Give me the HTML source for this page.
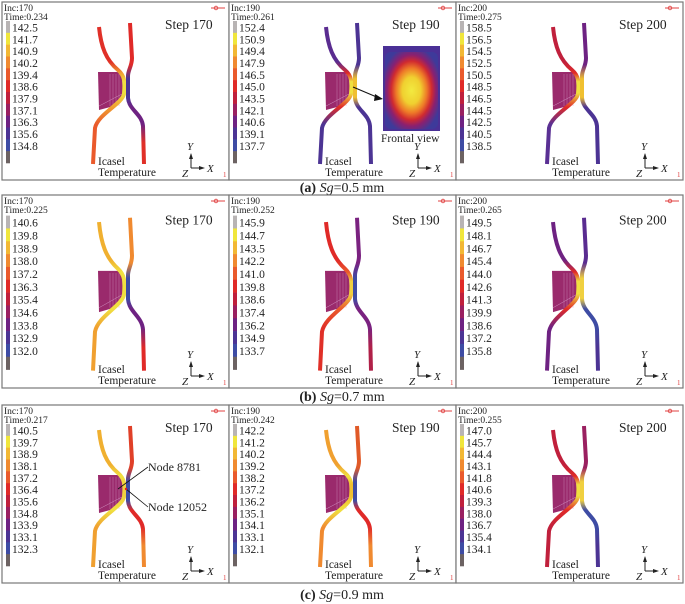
<!DOCTYPE html>
<html><head><meta charset="utf-8">
<style>
html,body{margin:0;padding:0;background:#fff;}
svg{display:block;font-family:"Liberation Serif",serif;}
</style></head>
<body>
<svg id="fig" width="685" height="604" viewBox="0 0 685 604" xmlns="http://www.w3.org/2000/svg">
<defs>
<radialGradient id="frontal" cx="50%" cy="50%" r="58%">
<stop offset="0" stop-color="#f2ea40"/><stop offset="0.3" stop-color="#f0d030"/>
<stop offset="0.5" stop-color="#ee7a28"/><stop offset="0.66" stop-color="#d02a30"/>
<stop offset="0.8" stop-color="#8a2070"/><stop offset="1" stop-color="#3e3a9a"/>
</radialGradient>
</defs>
</svg>
<script>
const colLabels1=[[142.5,141.7,140.9,140.2,139.4,138.6,137.9,137.1,136.3,135.6,134.8],[152.4,150.9,149.4,147.9,146.5,145.0,143.5,142.1,140.6,139.1,137.7],[158.5,156.5,154.5,152.5,150.5,148.5,146.5,144.5,142.5,140.5,138.5]];
const colLabels2=[[140.6,139.8,138.9,138.0,137.2,136.3,135.4,134.6,133.8,132.9,132.0],[145.9,144.7,143.5,142.2,141.0,139.8,138.6,137.4,136.2,134.9,133.7],[149.5,148.1,146.7,145.4,144.0,142.6,141.3,139.9,138.6,137.2,135.8]];
const colLabels3=[[140.5,139.7,138.9,138.1,137.2,136.4,135.6,134.8,133.9,133.1,132.3],[142.2,141.2,140.2,139.2,138.2,137.2,136.2,135.1,134.1,133.1,132.1],[147.0,145.7,144.4,143.1,141.8,140.6,139.3,138.0,136.7,135.4,134.1]];
const steps=[170,190,200];
const times=[["0.234","0.261","0.275"],["0.225","0.252","0.265"],["0.217","0.242","0.255"]];
const captions=[["(a)","0.5"],["(b)","0.7"],["(c)","0.9"]];
const palette=["#b8b4b4","#f0e63c","#f2b834","#f08a30","#ea5a2c","#e02a28","#c0203c","#9a2060","#6e2282","#4c3494","#3e4ca4","#6c6262"];
const stripCols=[
 [["#e03028","#f0a030","#f0e040","#ea5a2c"],["#e02a28","#4c3494","#6e2282","#e03028"]],
 [["#5a2c90","#e02a28","#f0e040","#4c3494"],["#4c3494","#f0c030","#4c3494","#4c3494"]],
 [["#c0203c","#e02a28","#f0e040","#5a3094"],["#6e2282","#f0c030","#4c3494","#4c3494"]],
 [["#f0b030","#f0e040","#f0e040","#f0a030"],["#f08a30","#3e4ca4","#6e2282","#e02a28"]],
 [["#e02a28","#ea5a2c","#f0d040","#e03028"],["#7a2280","#3e4ca4","#7a2280","#b02048"]],
 [["#6e2282","#e02a28","#f0e040","#6e2282"],["#5a2c90","#f0d040","#3e4ca4","#4c3494"]],
 [["#f0b030","#f0e040","#f0d040","#f0a030"],["#e04028","#3e4ca4","#e02a28","#f08a30"]],
 [["#f0a030","#f0e040","#f0c030","#f08a30"],["#e05a28","#3e4ca4","#e02a28","#f08a30"]],
 [["#c0203c","#e02a28","#f0e040","#c0203c"],["#9a2060","#f0d040","#3e4ca4","#4c3494"]]
];
const allLabels=[colLabels1,colLabels2,colLabels3];
const NS="http://www.w3.org/2000/svg";
const svg=document.getElementById('fig');
function mk(tag,attrs,parent,txt){const e=document.createElementNS(NS,tag);for(const k in attrs)e.setAttribute(k,attrs[k]);if(txt!==undefined)e.textContent=txt;(parent||svg).appendChild(e);return e;}
const colX=[2,229,456], colW=[227,227,227];
const rowY=[2,195,405], rowH=[178,193,178];
const capY=[192,401,599];
for(let r=0;r<3;r++){
 for(let c=0;c<3;c++){
  const x0=colX[c], y0=rowY[r], h=rowH[r], s=h/178;
  const g=mk('g',{transform:`translate(${x0},${y0})`});
  
  
  mk('rect',{x:0,y:0,width:colW[c],height:h,fill:'#fff',stroke:'#777','stroke-width':1.2},g);
  const t1=mk('text',{x:2,y:9,'font-size':9.5,fill:'#222'},g,`Inc:${steps[c]}`);
  
  const t2=mk('text',{x:2,y:18,'font-size':9.5,fill:'#222'},g,`Time:${times[r][c]}`);
  
  const cb=mk('g',{},g);
  
  const cbTop=19*s, cbBot=161*s, bh=(cbBot-cbTop)/12;
  palette.forEach((col,i)=>{const rr=mk('rect',{x:4,y:cbTop+i*bh,width:4,height:bh+0.3,fill:col},cb);
   });
  allLabels[r][c].forEach((v,i)=>{const tt=mk('text',{x:10,y:cbTop+(i+0.55)*bh+4,'font-size':11.5,fill:'#222'},cb,v.toFixed(1));
   });
  const st=mk('text',{x:163,y:27*s,'font-size':13.5,fill:'#222'},g,`Step ${steps[c]}`);
  
  const lg=mk('g',{},g);
  mk('line',{x1:209,y1:6,x2:223,y2:6,stroke:'#e04040','stroke-width':1},lg);
  mk('circle',{cx:214,cy:6,r:1.8,fill:'none',stroke:'#e04040','stroke-width':0.8},lg);
  const one=mk('text',{x:221,y:h-3,'font-size':7,fill:'#e04040'},g,'1');
  
  const Y=v=>v*s;
  const blk=mk('g',{},g);
  mk('path',{d:`M96 ${Y(70)} L120 ${Y(70)} L121 ${Y(98)} L112 ${Y(104)} L97 ${Y(108)} Z`,fill:'#9a2a6c'},blk);
  for(let k=0;k<4;k++)mk('line',{x1:108+k*3,y1:Y(72),x2:108+k*3,y2:Y(104),stroke:'#d090c0','stroke-width':0.4},blk);
  mk('line',{x1:97,y1:Y(104),x2:120,y2:Y(92),stroke:'#d090c0','stroke-width':0.5},blk);
  const left=`M97 ${Y(25)} C99 ${Y(45)},104 ${Y(58)},116 ${Y(68)} C123 ${Y(74)},123 ${Y(80)},122 ${Y(92)} C120 ${Y(102)},96 ${Y(112)},93 ${Y(126)} L91 ${Y(162)}`;
  const right=`M128 ${Y(21)} L130 ${Y(56)} C130 ${Y(64)},126 ${Y(68)},126 ${Y(74)} L126 ${Y(96)} C127 ${Y(108)},140 ${Y(112)},141 ${Y(124)} L142 ${Y(162)}`;
  const sc=stripCols[r*3+c];
  [[left,sc[0],'left-strip'],[right,sc[1],'right-strip']].forEach(([d,cols,nm],j)=>{
   const gid=`gr${r}${c}${j}`;
   const lgd=mk('linearGradient',{id:gid,gradientUnits:'userSpaceOnUse',x1:0,y1:Y(20),x2:0,y2:Y(162)},g);
   const offs=j==0?[[0,0],[0.28,0],[0.36,1],[0.42,2],[0.5,2],[0.6,1],[0.72,3],[1,3]]:[[0,0],[0.3,0],[0.4,1],[0.53,1],[0.6,2],[0.72,2],[0.85,3],[1,3]];
   offs.forEach(([o,ci])=>mk('stop',{offset:o,'stop-color':cols[ci]},lgd));
   const p=mk('path',{d:d,fill:'none',stroke:`url(#${gid})`,'stroke-width':4,'stroke-linecap':'butt'},g);
   
  });
  const ic=mk('text',{x:96,y:h-15,'font-size':11.5,fill:'#222'},g,'Icasel');
  
  const tp=mk('text',{x:96,y:h-4,'font-size':11.5,fill:'#222'},g,'Temperature');
  
  const ax=mk('g',{},g);
  const ox=189, oy=h-12;
  mk('line',{x1:ox,y1:oy,x2:ox,y2:oy-14,stroke:'#222','stroke-width':1},ax);
  mk('path',{d:`M${ox-2} ${oy-9} L${ox} ${oy-15} L${ox+2} ${oy-9}Z`,fill:'#222'},ax);
  mk('line',{x1:ox,y1:oy,x2:ox+12,y2:oy,stroke:'#222','stroke-width':1},ax);
  mk('path',{d:`M${ox+8} ${oy-2} L${ox+14} ${oy} L${ox+8} ${oy+2}Z`,fill:'#222'},ax);
  mk('text',{x:ox-4,y:oy-18,'font-size':11,'font-style':'italic',fill:'#222'},ax,'Y');
  mk('text',{x:ox+16,y:oy+4,'font-size':11,'font-style':'italic',fill:'#222'},ax,'X');
  mk('text',{x:ox-9,y:oy+9,'font-size':11,'font-style':'italic',fill:'#222'},ax,'Z');
  if(r==0&&c==1){
   const fv=mk('g',{},g);
   mk('rect',{x:154,y:44,width:57,height:85,fill:'#4a3096'},fv);
   mk('rect',{x:156,y:50,width:53,height:77,fill:'url(#frontal)',rx:6},fv);
   mk('line',{x1:124,y1:85,x2:150,y2:96,stroke:'#111','stroke-width':1},fv);
   mk('path',{d:'M146 92 L154 97 L145 99Z',fill:'#111'},fv);
   mk('text',{x:152,y:140,'font-size':11.5,fill:'#222'},fv,'Frontal view');
  }
  if(r==2&&c==0){
   const nd=mk('g',{},g);
   mk('line',{x1:116,y1:84,x2:146,y2:62,stroke:'#111','stroke-width':0.8},nd);
   mk('line',{x1:124,y1:84,x2:146,y2:102,stroke:'#111','stroke-width':0.8},nd);
   mk('circle',{cx:124,cy:84,r:1.2,fill:'#e02020'},nd);
   mk('text',{x:146,y:66,'font-size':12,fill:'#222'},nd,'Node 8781');
   mk('text',{x:146,y:106,'font-size':12,fill:'#222'},nd,'Node 12052');
  }
 }
 const cp=mk('text',{x:342,y:capY[r],'font-size':14,'text-anchor':'middle',fill:'#222'});
 
 mk('tspan',{'font-weight':'bold'},cp,captions[r][0]+' ');
 mk('tspan',{'font-style':'italic'},cp,'Sg');
 mk('tspan',{},cp,`=${captions[r][1]} mm`);
}
</script>
</body></html>
